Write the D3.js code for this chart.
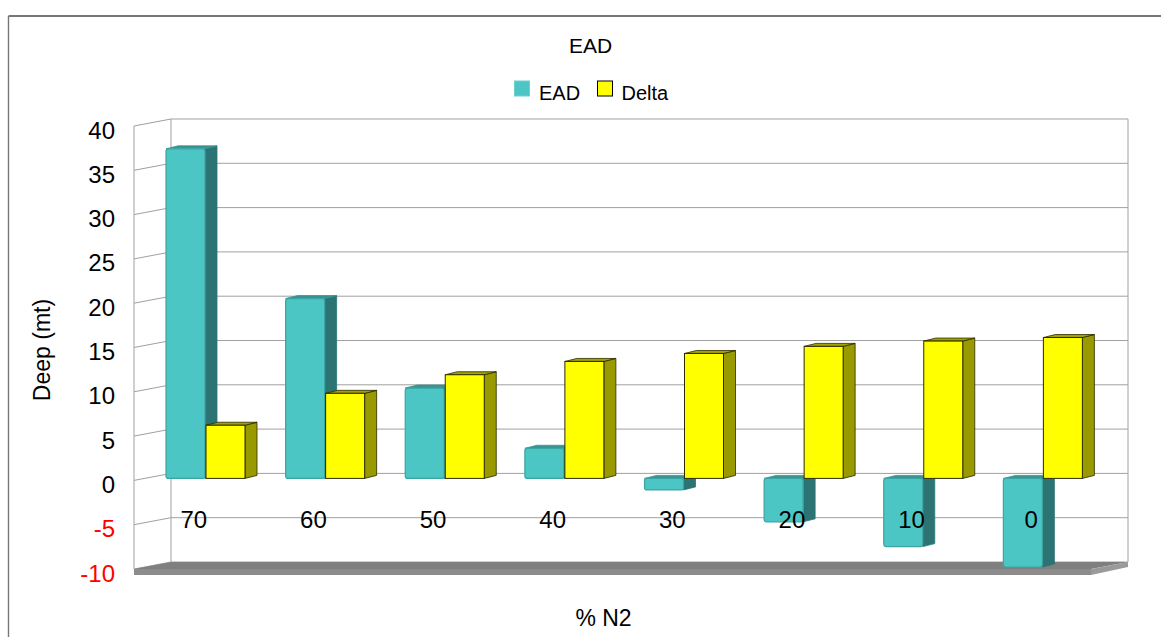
<!DOCTYPE html>
<html>
<head>
<meta charset="utf-8">
<script src="https://cdn.jsdelivr.net/npm/d3@7"></script>
<style>
  html, body { margin: 0; padding: 0; background: #fff; }
  svg { display: block; font-family: "Liberation Sans", Arial, sans-serif; }
</style>
</head>
<body>
<svg id="chart" width="1161" height="637"></svg>
<script>
// Nitrogen fraction (%) categories and the two series, in metres
const categories = ["70", "60", "50", "40", "30", "20", "10", "0"];
const eadValues = [37.2, 20.3, 10.2, 3.4, -1.3, -4.9, -7.7, -10.0];
const deltaValues = [6.0, 9.6, 11.7, 13.2, 14.1, 14.9, 15.5, 15.9];
const seriesNames = ["EAD", "Delta"];
const yTicks = [40, 35, 30, 25, 20, 15, 10, 5, 0, -5, -10];
const yDomain = [-10, 40];

const svg = d3.select("#chart");

// Oblique 3D box: front plane, back plane shifted by the wall depth
const depth = { dx: 37, dy: -7 };
const barDepth = { dx: 12, dy: -3 };
const frontX = [134, 1091];

const yFront = d3.scaleLinear().domain(yDomain).range([569, 126]);
const yBack = d3.scaleLinear().domain(yDomain).range([569 + depth.dy, 126 + depth.dy]);
const yBar = d3.scaleLinear().domain(yDomain).range([567, 124]);

const x0 = d3.scaleBand().domain(categories).range(frontX);
const x1 = d3.scaleBand().domain(seriesNames).range([32, 112]);

// Outer frame
svg.append("line").attr("x1", 8.5).attr("y1", 16).attr("x2", 1161).attr("y2", 16)
  .attr("stroke", "#4a4a4a").attr("stroke-width", 1.6);
svg.append("line").attr("x1", 8.5).attr("y1", 16).attr("x2", 8.5).attr("y2", 637)
  .attr("stroke", "#777").attr("stroke-width", 1.4);

const grid = svg.append("g").attr("stroke", "#a0a0a0").attr("stroke-width", 1).attr("fill", "none");
const backLeft = frontX[0] + depth.dx;
const backRight = frontX[1] + depth.dx;

// Gridlines on the back wall and on the left side wall
yTicks.forEach(v => {
  grid.append("line").attr("x1", backLeft).attr("x2", backRight)
    .attr("y1", yBack(v)).attr("y2", yBack(v));
  grid.append("line").attr("x1", frontX[0]).attr("x2", backLeft)
    .attr("y1", yFront(v)).attr("y2", yBack(v));
});
grid.append("line").attr("x1", frontX[0]).attr("x2", frontX[0])
  .attr("y1", yFront(yDomain[1])).attr("y2", yFront(yDomain[0]));
grid.append("line").attr("x1", backLeft).attr("x2", backLeft)
  .attr("y1", yBack(yDomain[1])).attr("y2", yBack(yDomain[0]));
grid.append("line").attr("x1", backRight).attr("x2", backRight)
  .attr("y1", yBack(yDomain[1])).attr("y2", yBack(yDomain[0]));

// Floor slab
const fy = yFront(yDomain[0]), by = yBack(yDomain[0]), slab = 6;
const floor = svg.append("g");
floor.append("polygon")
  .attr("points", [[frontX[0], fy], [backLeft, by], [backRight, by], [frontX[1], fy]].join(" "))
  .attr("fill", "#7f7f7f");
floor.append("polygon")
  .attr("points", [[frontX[0], fy], [frontX[1], fy], [frontX[1], fy + slab], [frontX[0], fy + slab]].join(" "))
  .attr("fill", "#8c8c8c");
floor.append("polygon")
  .attr("points", [[frontX[1], fy], [backRight, by], [backRight, by + slab - 1], [frontX[1], fy + slab]].join(" "))
  .attr("fill", "#9a9a9a");

// Bar styles
const styles = {
  EAD: { front: "#4bc6c4", side: "#2b7473", top: "#3a9391", stroke: "#3aa5a3", sw: 1.2, rx: 2.5 },
  Delta: { front: "#ffff00", side: "#999900", top: "#a3a300", stroke: "#2b2b00", sw: 1, rx: 0 }
};

const barW = x1.bandwidth() - 1;
const bars = svg.append("g");

categories.forEach((cat, i) => {
  const values = { EAD: eadValues[i], Delta: deltaValues[i] };
  seriesNames.forEach(name => {
    const v = values[name];
    const st = styles[name];
    const x = x0(cat) + x1(name);
    const top = Math.min(yBar(0), yBar(v));
    const bottom = Math.max(yBar(0), yBar(v));
    const g = bars.append("g").attr("class", "bar " + name);
    g.append("polygon")
      .attr("points", [[x + barW, top], [x + barW + barDepth.dx, top + barDepth.dy],
        [x + barW + barDepth.dx, bottom + barDepth.dy], [x + barW, bottom]].join(" "))
      .attr("fill", st.side).attr("stroke", name === "Delta" ? st.stroke : st.side)
      .attr("stroke-width", 0.8).attr("stroke-linejoin", "round");
    g.append("polygon")
      .attr("points", [[x, top], [x + barDepth.dx, top + barDepth.dy],
        [x + barW + barDepth.dx, top + barDepth.dy], [x + barW, top]].join(" "))
      .attr("fill", st.top).attr("stroke", name === "Delta" ? st.stroke : st.top)
      .attr("stroke-width", 0.8).attr("stroke-linejoin", "round");
    g.append("rect")
      .attr("x", x).attr("y", top).attr("width", barW).attr("height", bottom - top)
      .attr("rx", st.rx).attr("fill", st.front).attr("stroke", st.stroke).attr("stroke-width", st.sw);
  });
});

// Category labels along the -5 level of the back wall
svg.append("g").selectAll("text").data(categories).join("text")
  .attr("x", d => x0(d) + x0.bandwidth() / 2)
  .attr("y", yBack(-5) + 10)
  .attr("text-anchor", "middle")
  .attr("font-size", 24)
  .attr("fill", "#000")
  .text(d => d);

// Value axis labels
svg.append("g").selectAll("text").data(yTicks).join("text")
  .attr("x", 115)
  .attr("y", d => yFront(d) + 12.5)
  .attr("text-anchor", "end")
  .attr("font-size", 24)
  .attr("fill", d => d < 0 ? "#ff0000" : "#000")
  .text(d => d);

// Titles
svg.append("text").attr("x", 590.5).attr("y", 53).attr("text-anchor", "middle")
  .attr("font-size", 21).text("EAD");
svg.append("text").attr("transform", "translate(50,350) rotate(-90)")
  .attr("text-anchor", "middle").attr("font-size", 23).text("Deep (mt)");
svg.append("text").attr("x", 603.5).attr("y", 626).attr("text-anchor", "middle")
  .attr("font-size", 23).text("% N2");

// Legend
const legendItems = [
  { name: "EAD", sx: 514.5, tx: 539 },
  { name: "Delta", sx: 597.5, tx: 621.5 }
];
const legend = svg.append("g");
legendItems.forEach(it => {
  legend.append("rect").attr("x", it.sx).attr("y", 81).attr("width", 15).attr("height", 15)
    .attr("fill", styles[it.name].front)
    .attr("stroke", it.name === "Delta" ? "#000" : "#6fd0ce").attr("stroke-width", 1);
  legend.append("text").attr("x", it.tx).attr("y", 100).attr("font-size", 20).text(it.name);
});
</script>
</body>
</html>
